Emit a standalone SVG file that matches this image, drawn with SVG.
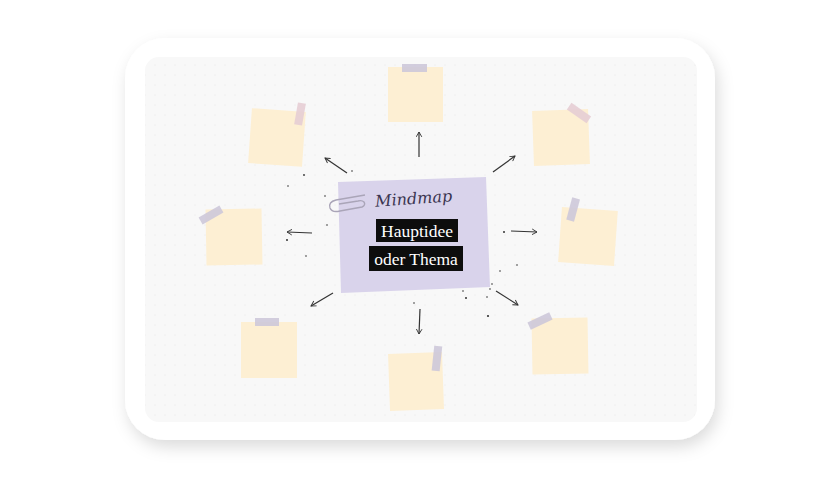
<svg xmlns="http://www.w3.org/2000/svg" width="840" height="480" viewBox="0 0 840 480">
  <defs>
    <filter id="shadow" x="-10%" y="-10%" width="125%" height="130%">
      <feDropShadow dx="3" dy="7" stdDeviation="8" flood-color="#000" flood-opacity="0.14"/>
    </filter>
    <pattern id="dots" width="10" height="10" patternUnits="userSpaceOnUse">
      <circle cx="5" cy="5" r="0.6" fill="#e4e4e4"/>
    </pattern>
    <marker id="arrow" viewBox="0 0 10 10" refX="8" refY="5" markerWidth="7" markerHeight="7" orient="auto-start-reverse" markerUnits="userSpaceOnUse">
      <path d="M1,1 L8,5 L1,9" fill="none" stroke="#333" stroke-width="1.3"/>
    </marker>
    <style>
      .note { fill: #fdefd3; }
      .tape-l { fill: #cdc8d9; opacity: 0.9; }
      .tape-p { fill: #e6cdd4; opacity: 0.9; }
      .conn { stroke: #333; stroke-width: 1.2; fill: none; marker-end: url(#arrow); }
      .speck { fill: #333; }
      .label { font-family: "Liberation Serif", "DejaVu Serif", serif; font-size: 17.5px; fill: #ffffff; text-anchor: middle; }
      .script { font-family: "DejaVu Serif", "Liberation Serif", serif; font-style: italic; font-size: 16px; fill: #3b3550; text-anchor: middle; }
    </style>
  </defs>

  <rect width="840" height="480" fill="#ffffff"/>

  <g id="card">
    <rect x="125" y="38" width="590" height="402" rx="40" fill="#ffffff" filter="url(#shadow)"/>
    <rect x="145" y="57" width="552" height="365" rx="14" fill="#f8f8f8"/>
    <rect x="145" y="57" width="552" height="365" rx="14" fill="url(#dots)"/>
  </g>

  <g id="connectors">
    <line class="conn" x1="419" y1="157" x2="419" y2="132"/>
    <line class="conn" x1="347" y1="173" x2="325" y2="158"/>
    <line class="conn" x1="493" y1="172" x2="515" y2="156"/>
    <line class="conn" x1="312" y1="233" x2="287" y2="232"/>
    <line class="conn" x1="511" y1="231" x2="537" y2="232"/>
    <line class="conn" x1="333" y1="293" x2="311" y2="306"/>
    <line class="conn" x1="420" y1="309" x2="419" y2="334"/>
    <line class="conn" x1="496" y1="291" x2="518" y2="305"/>
  </g>

  <g id="specks">
    <circle class="speck" cx="304" cy="175" r="0.9"/>
    <circle class="speck" cx="325" cy="196" r="0.8"/>
    <circle class="speck" cx="288" cy="186" r="0.8"/>
    <circle class="speck" cx="287" cy="240" r="1"/>
    <circle class="speck" cx="306" cy="256" r="0.8"/>
    <circle class="speck" cx="327" cy="225" r="0.8"/>
    <circle class="speck" cx="504" cy="232" r="1"/>
    <circle class="speck" cx="517" cy="265" r="0.8"/>
    <circle class="speck" cx="466" cy="298" r="1"/>
    <circle class="speck" cx="463" cy="291" r="0.8"/>
    <circle class="speck" cx="490" cy="289" r="0.8"/>
    <circle class="speck" cx="487" cy="297" r="0.8"/>
    <circle class="speck" cx="492" cy="284" r="0.8"/>
    <circle class="speck" cx="488" cy="316" r="1.1"/>
    <circle class="speck" cx="414" cy="303" r="0.8"/>
    <circle class="speck" cx="352" cy="171" r="0.8"/>
    <circle class="speck" cx="500" cy="271" r="0.8"/>
  </g>

  <g id="center">
    <polygon points="338,182 486,177 490,287 341,293" fill="#d9d3eb"/>
    <path d="M365,195 L336,200 Q328,202 330,208 Q332,213 340,211 L362,207 Q366,205 364,202 Q362,200 358,201 L339,204" fill="none" stroke="#aaa5b8" stroke-width="1.4"/>
    <text class="script" x="414" y="204" transform="rotate(-4 414 204)">Mindmap</text>
    <rect x="376" y="219" width="82" height="23" fill="#0d0d0d"/>
    <text class="label" x="417" y="236.5">Hauptidee</text>
    <rect x="369" y="246" width="94" height="25" fill="#0d0d0d"/>
    <text class="label" x="416" y="264.5">oder Thema</text>
  </g>

  <g id="note-top">
    <rect class="note" x="388" y="67" width="55" height="55"/>
    <rect class="tape-l" x="402" y="64" width="25" height="8"/>
  </g>
  <g id="note-top-left">
    <rect class="note" x="250" y="110" width="54" height="55" transform="rotate(4 277 137)"/>
    <rect class="tape-p" x="296" y="103" width="8" height="22" transform="rotate(10 300 114)"/>
  </g>
  <g id="note-top-right">
    <rect class="note" x="533" y="110" width="56" height="55" transform="rotate(-2 561 137)"/>
    <rect class="tape-p" x="567" y="109" width="24" height="8" transform="rotate(35 579 113)"/>
  </g>
  <g id="note-left">
    <rect class="note" x="206" y="209" width="56" height="56" transform="rotate(-1 234 237)"/>
    <rect class="tape-l" x="199" y="211" width="24" height="8" transform="rotate(-30 211 215)"/>
  </g>
  <g id="note-right">
    <rect class="note" x="560" y="209" width="56" height="55" transform="rotate(4 588 236)"/>
    <rect class="tape-l" x="569" y="198" width="8" height="23" transform="rotate(15 573 210)"/>
  </g>
  <g id="note-bottom-left">
    <rect class="note" x="241" y="322" width="56" height="56"/>
    <rect class="tape-l" x="255" y="318" width="24" height="8"/>
  </g>
  <g id="note-bottom">
    <rect class="note" x="389" y="353" width="54" height="57" transform="rotate(-2 416 381)"/>
    <rect class="tape-l" x="433" y="346" width="8" height="25" transform="rotate(6 437 358)"/>
  </g>
  <g id="note-bottom-right">
    <rect class="note" x="532" y="318" width="56" height="56" transform="rotate(-1 560 346)"/>
    <rect class="tape-l" x="528" y="317" width="24" height="8" transform="rotate(-25 540 321)"/>
  </g>
</svg>
